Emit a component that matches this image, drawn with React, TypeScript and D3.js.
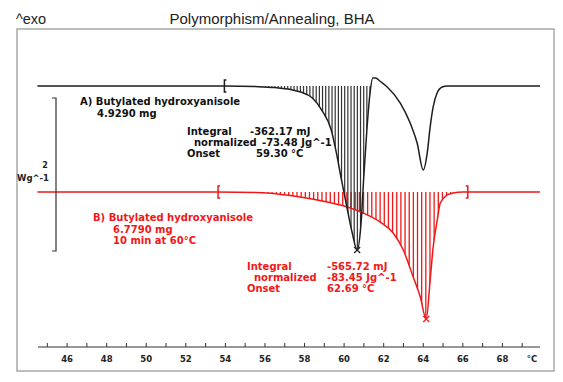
import React from 'react';
import * as d3 from 'd3';

// Curve A (black) – temperature (°C) and heat flow (W/g, relative to baseline)
const tempA = [44.5, 54.0, 55.5, 56.5, 57.3, 57.8, 58.4, 58.9, 59.35, 59.6, 59.85, 60.15, 60.4, 60.66, 60.85, 61.0, 61.15, 61.3, 61.45, 61.6, 61.8, 62.18, 62.84, 63.34, 63.69, 64.0, 64.2, 64.35, 64.5, 64.7, 64.96, 65.21, 69.9];
const hfA = [0, 0, -0.007, -0.02, -0.046, -0.079, -0.158, -0.329, -0.579, -0.868, -1.211, -1.605, -1.921, -2.158, -1.829, -1.171, -0.579, -0.118, 0.105, 0.105, 0.066, -0.013, -0.224, -0.487, -0.75, -1.105, -0.882, -0.539, -0.276, -0.092, -0.013, 0, 0];

// Curve B (red)
const tempB = [44.5, 53.6, 55.5, 56.1, 57.78, 59.14, 60.16, 60.96, 61.82, 62.48, 62.99, 63.49, 63.85, 64.15, 64.35, 64.5, 64.71, 64.86, 65.21, 65.51, 66.0, 69.9];
const hfB = [0, 0, -0.007, -0.013, -0.066, -0.132, -0.197, -0.276, -0.395, -0.539, -0.763, -1.118, -1.382, -1.671, -1.158, -0.724, -0.368, -0.145, -0.039, -0.013, 0, 0];

const offsetB = -1.395; // vertical shift of curve B (W/g)
const intA = [53.95, 61.33]; // integration limits A
const intB = [53.63, 66.25]; // integration limits B
const minorTicks = d3.range(45, 70, 1);
const tickLabels = [46, 48, 50, 52, 54, 56, 58, 60, 62, 64, 66, 68];

const textA = ['A) Butylated hydroxyanisole', '4.9290 mg'];
const resA = [['Integral', '-362.17 mJ'], ['normalized', '-73.48 Jg^-1'], ['Onset', '59.30 °C']];
const textB = ['B) Butylated hydroxyanisole', '6.7790 mg', '10 min at 60°C'];
const resB = [['Integral', '-565.72 mJ'], ['normalized', '-83.45 Jg^-1'], ['Onset', '62.69 °C']];

const RED = '#f01818';
const BLK = '#1e1e1e';
const FONT = 'DejaVu Sans';

export default function App() {
  const W = 563, H = 382;
  const x = d3.scaleLinear().domain([44.53, 69.9]).range([38, 540]);
  const y = d3.scaleLinear().domain([0, -2]).range([86, 238]);

  const ptsA = tempA.map((t, i) => [t, hfA[i]] as [number, number]);
  const ptsB = tempB.map((t, i) => [t, hfB[i] + offsetB] as [number, number]);

  const line = d3.line<[number, number]>().x(d => x(d[0])).y(d => y(d[1])).curve(d3.curveMonotoneX);
  const areaA = d3.area<[number, number]>().x(d => x(d[0])).y0(y(0)).y1(d => y(d[1])).curve(d3.curveMonotoneX);
  const areaB = d3.area<[number, number]>().x(d => x(d[0])).y0(y(offsetB)).y1(d => y(d[1])).curve(d3.curveMonotoneX);

  const hatchA = d3.range(intA[0], intA[1], 0.16);
  const hatchB = d3.range(intB[0], intB[1], 0.21);

  const axisY = 347;
  const baseA = y(0), baseB = y(offsetB);

  const minA = ptsA[d3.minIndex(ptsA, d => d[1])];
  const minB = ptsB[d3.minIndex(ptsB, d => d[1])];

  const bracket = (t: number, base: number, color: string, dir: number, key: string) => {
    const px = x(t);
    return (
      <path key={key} d={`M${px + dir * 2},${base - 6} H${px} V${base + 6} H${px + dir * 2}`} stroke={color} strokeWidth={1.5} fill="none" />
    );
  };
  const cross = (p: [number, number], color: string) => {
    const px = x(p[0]), py = y(p[1]);
    return <path d={`M${px - 3},${py - 3} L${px + 3},${py + 3} M${px + 3},${py - 3} L${px - 3},${py + 3}`} stroke={color} strokeWidth={1.2} />;
  };

  return (
    <svg width={W} height={H} style={{ position: 'absolute', left: 0, top: 0, background: '#fff' }}>
      <defs>
        <clipPath id="clipA"><path d={areaA(ptsA) || ''} /></clipPath>
        <clipPath id="clipB"><path d={areaB(ptsB) || ''} /></clipPath>
      </defs>
      <rect x={0} y={0} width={W} height={H} fill="#fff" />
      <text x={16} y={24} fontFamily="Liberation Sans" fontSize={14.5} fill="#222">^exo</text>
      <text x={272} y={24} textAnchor="middle" fontFamily="Liberation Sans" fontSize={15} fill="#222">Polymorphism/Annealing, BHA</text>
      <rect x={17} y={29} width={537} height={342} fill="none" stroke="#a8a8a8" strokeWidth={1.5} />

      {/* hatching B */}
      <g clipPath="url(#clipB)">
        {hatchB.map((t, i) => (
          <line key={i} x1={x(t)} x2={x(t)} y1={baseB - 2} y2={340} stroke={RED} strokeWidth={1.3} />
        ))}
      </g>
      {/* hatching A */}
      <g clipPath="url(#clipA)">
        {hatchA.map((t, i) => (
          <line key={i} x1={x(t)} x2={x(t)} y1={baseA - 2} y2={300} stroke="#333" strokeWidth={1.2} />
        ))}
      </g>

      <path d={line(ptsB) || ''} fill="none" stroke={RED} strokeWidth={1.5} />
      <path d={line(ptsA) || ''} fill="none" stroke={BLK} strokeWidth={1.5} />

      {bracket(intA[0], baseA, BLK, 1, 'ba')}
      {bracket(intB[0], baseB, RED, 1, 'bb1')}
      {bracket(intB[1], baseB, RED, -1, 'bb2')}
      {cross(minA, BLK)}
      {cross(minB, RED)}

      {/* scale bar */}
      <path d="M52,98 H56 V251 H52" fill="none" stroke="#333" strokeWidth={1.2} />
      <text x={45} y={168} textAnchor="middle" fontFamily={FONT} fontWeight="bold" fontSize={8} fill="#222">2</text>
      <text x={17} y={181} fontFamily={FONT} fontWeight="bold" fontSize={8.5} fill="#222">Wg^-1</text>

      {/* annotations A */}
      <g fontFamily={FONT} fontWeight="bold" fontSize={10} fill="#111">
        <text x={80} y={105}>{textA[0]}</text>
        <text x={97} y={117}>{textA[1]}</text>
        <text x={187} y={135}>{resA[0][0]}</text>
        <text x={250} y={135}>{resA[0][1]}</text>
        <text x={194} y={146}>{resA[1][0]}</text>
        <text x={262} y={146}>{resA[1][1]}</text>
        <text x={187} y={157}>{resA[2][0]}</text>
        <text x={256} y={157}>{resA[2][1]}</text>
      </g>
      {/* annotations B */}
      <g fontFamily={FONT} fontWeight="bold" fontSize={10} fill={RED}>
        <text x={93} y={221}>{textB[0]}</text>
        <text x={113} y={233}>{textB[1]}</text>
        <text x={113} y={244}>{textB[2]}</text>
        <text x={247} y={270}>{resB[0][0]}</text>
        <text x={327} y={270}>{resB[0][1]}</text>
        <text x={254} y={281}>{resB[1][0]}</text>
        <text x={327} y={281}>{resB[1][1]}</text>
        <text x={247} y={292}>{resB[2][0]}</text>
        <text x={327} y={292}>{resB[2][1]}</text>
      </g>

      {/* x axis */}
      <line x1={38} x2={540} y1={axisY} y2={axisY} stroke="#333" strokeWidth={1.2} />
      {minorTicks.map(t => (
        <line key={t} x1={x(t)} x2={x(t)} y1={axisY} y2={axisY - 4} stroke="#333" strokeWidth={1} />
      ))}
      <g fontFamily={FONT} fontWeight="bold" fontSize={8.5} fill="#222" textAnchor="middle">
        {tickLabels.map(t => (
          <text key={t} x={x(t)} y={axisY + 15}>{t}</text>
        ))}
        <text x={532} y={axisY + 15}>°C</text>
      </g>
    </svg>
  );
}
